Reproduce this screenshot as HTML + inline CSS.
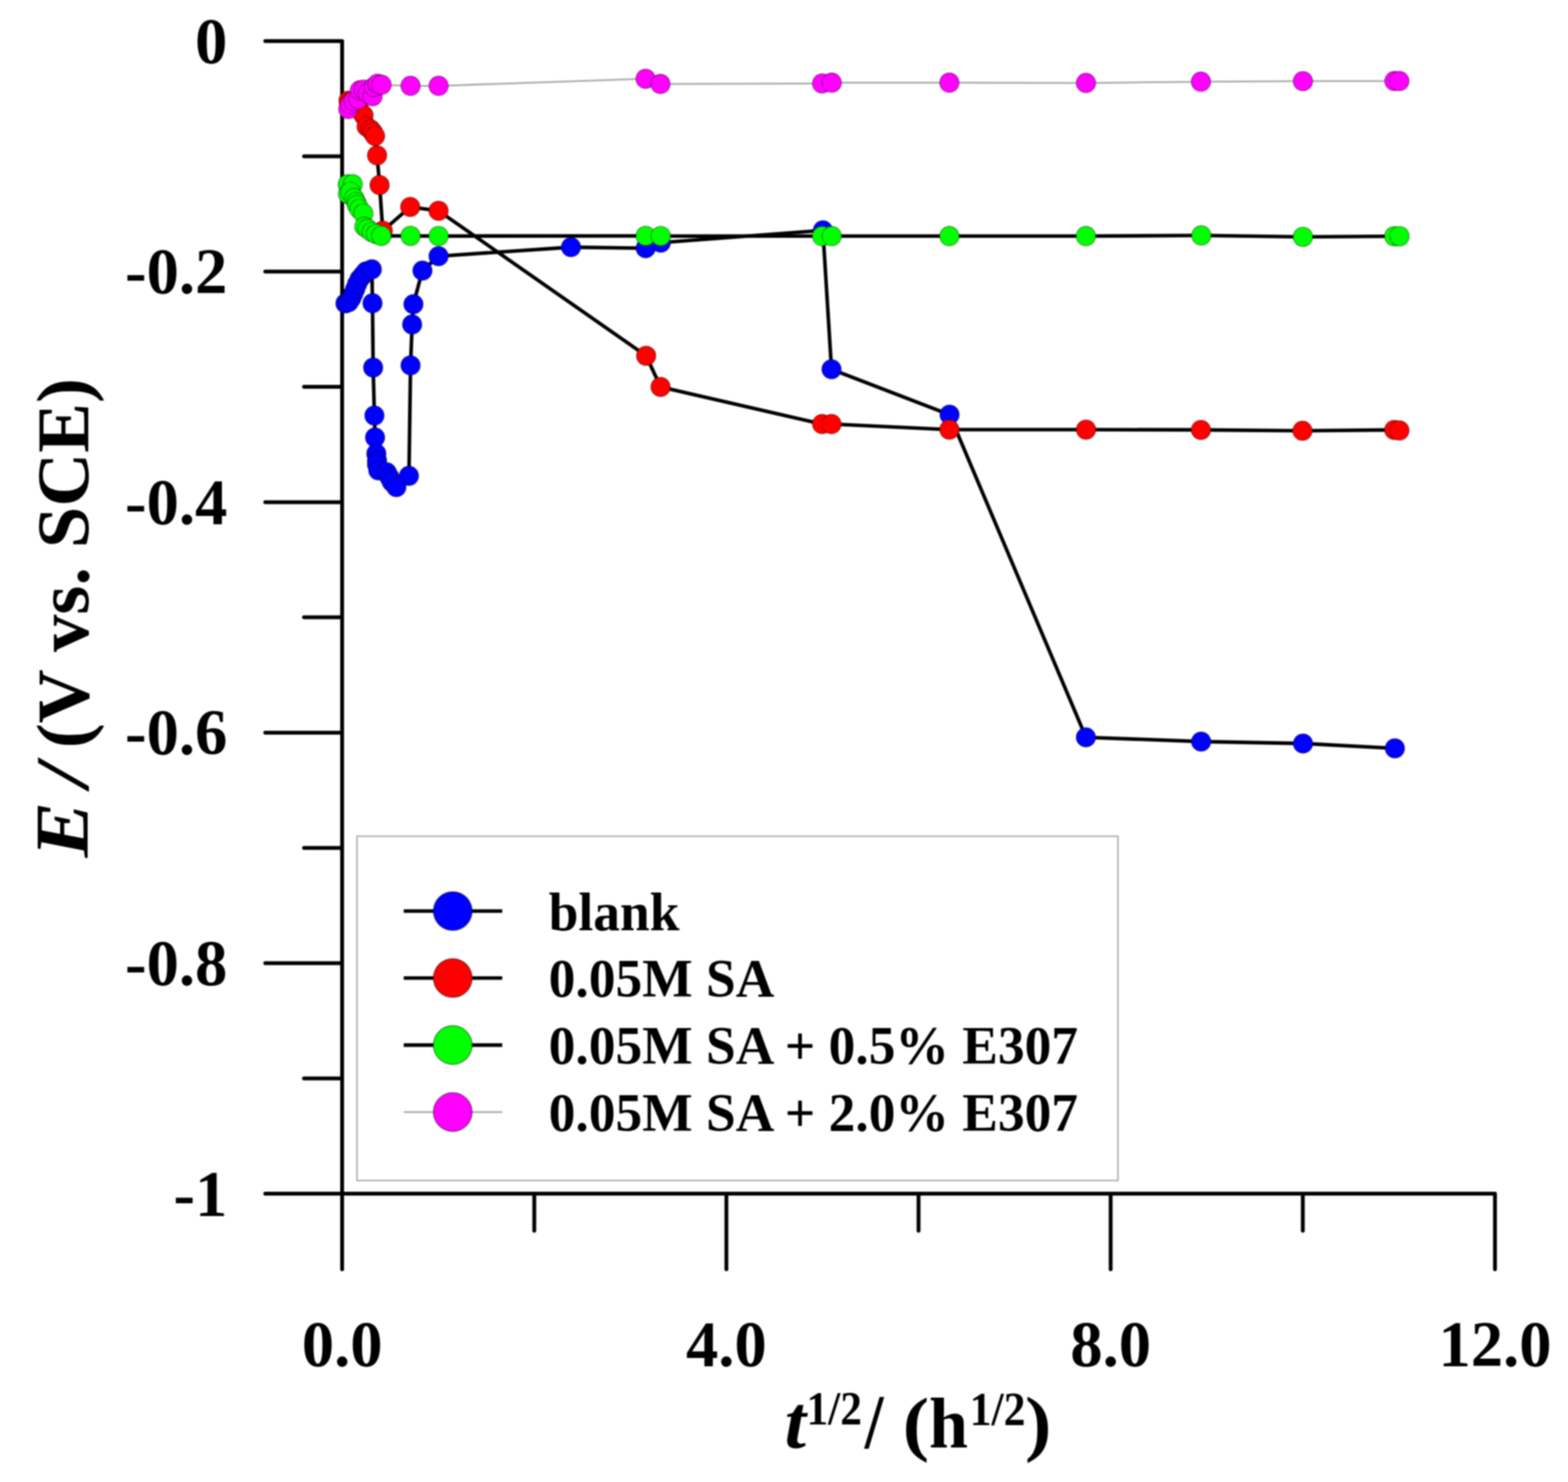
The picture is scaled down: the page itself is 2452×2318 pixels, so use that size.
<!DOCTYPE html>
<html><head><meta charset="utf-8"><title>E vs t^1/2</title>
<style>
html,body{margin:0;padding:0;background:#fff;}
body{width:2452px;height:2318px;overflow:hidden;}
svg{display:block;filter:blur(0.9px);}
text{font-family:"Liberation Serif","Times New Roman",serif;font-weight:bold;fill:#000;}
.tk{font-size:101px;}
.lg{font-size:83.6px;}
.ttl{font-size:114px;}
.sup{font-size:76px;}
</style></head><body>
<svg width="2452" height="2318" viewBox="0 0 2452 2318">
<rect width="2452" height="2318" fill="#fff"/>
<path d="M414.8,64.2 H535.0 V1985.3 M414.8,1867.1 H2337.8 V1985.3 M414.8,424.8 H535.0 M414.8,785.4 H535.0 M414.8,1145.9 H535.0 M414.8,1506.5 H535.0 M475.4,244.5 H535.0 M475.4,605.1 H535.0 M475.4,965.6 H535.0 M475.4,1326.2 H535.0 M475.4,1686.8 H535.0 M1135.9,1867.1 V1985.3 M1736.8,1867.1 V1985.3 M835.5,1867.1 V1925 M1436.4,1867.1 V1925 M2037.3,1867.1 V1925" fill="none" stroke="#000" stroke-width="6.0" stroke-linecap="round" stroke-linejoin="round"/>
<rect x="558.2" y="1308" width="1190" height="538.5" fill="none" stroke="#a9a9a9" stroke-width="2.2"/>
<polyline points="540.2,474.5 545.2,472.7 549.2,466.7 552.3,459.6 555.3,452.6 558.3,444.5 562.3,436.5 567.4,430.4 572.4,424.4 581.5,421.3 582.5,474.3 583.5,574.9 585.5,650.0 586.5,684.3 588.5,709.5 589.6,720.6 589.6,726.6 591.6,735.7 604.7,738.7 608.7,745.8 612.7,753.8 619.8,761.9 639.5,744.3 642.0,571.4 644.5,507.5 646.5,475.8 660.6,423.3 685.8,400.7 892.9,386.6 1009.7,388.2 1033.3,379.5 1286.8,360.3 1300.3,577.6 1484.9,648.6 1698.1,1153.2 1878.3,1159.9 2037.6,1162.9 2181.3,1170.5" fill="none" stroke="#000" stroke-width="5.6" stroke-linejoin="round"/>
<g fill="#0000ff" stroke="rgba(0,0,0,0.5)" stroke-width="1.1"><circle cx="540.2" cy="474.5" r="15.2"/><circle cx="545.2" cy="472.7" r="15.2"/><circle cx="549.2" cy="466.7" r="15.2"/><circle cx="552.3" cy="459.6" r="15.2"/><circle cx="555.3" cy="452.6" r="15.2"/><circle cx="558.3" cy="444.5" r="15.2"/><circle cx="562.3" cy="436.5" r="15.2"/><circle cx="567.4" cy="430.4" r="15.2"/><circle cx="572.4" cy="424.4" r="15.2"/><circle cx="581.5" cy="421.3" r="15.2"/><circle cx="582.5" cy="474.3" r="15.2"/><circle cx="583.5" cy="574.9" r="15.2"/><circle cx="585.5" cy="650.0" r="15.2"/><circle cx="586.5" cy="684.3" r="15.2"/><circle cx="588.5" cy="709.5" r="15.2"/><circle cx="589.6" cy="720.6" r="15.2"/><circle cx="589.6" cy="726.6" r="15.2"/><circle cx="591.6" cy="735.7" r="15.2"/><circle cx="604.7" cy="738.7" r="15.2"/><circle cx="608.7" cy="745.8" r="15.2"/><circle cx="612.7" cy="753.8" r="15.2"/><circle cx="619.8" cy="761.9" r="15.2"/><circle cx="639.5" cy="744.3" r="15.2"/><circle cx="642.0" cy="571.4" r="15.2"/><circle cx="644.5" cy="507.5" r="15.2"/><circle cx="646.5" cy="475.8" r="15.2"/><circle cx="660.6" cy="423.3" r="15.2"/><circle cx="685.8" cy="400.7" r="15.2"/><circle cx="892.9" cy="386.6" r="15.2"/><circle cx="1009.7" cy="388.2" r="15.2"/><circle cx="1033.3" cy="379.5" r="15.2"/><circle cx="1286.8" cy="360.3" r="15.2"/><circle cx="1300.3" cy="577.6" r="15.2"/><circle cx="1484.9" cy="648.6" r="15.2"/><circle cx="1698.1" cy="1153.2" r="15.2"/><circle cx="1878.3" cy="1159.9" r="15.2"/><circle cx="2037.6" cy="1162.9" r="15.2"/><circle cx="2181.3" cy="1170.5" r="15.2"/></g>

<polyline points="545.0,157.5 549.0,160.0 554.0,164.0 561.0,171.0 568.5,180.3 573.3,197.9 579.6,202.6 583.0,207.0 586.5,212.7 589.7,243.1 593.6,289.4 598.6,361.0 641.5,323.7 685.8,329.7 1010.4,556.5 1033.0,605.2 1285.6,663.3 1300.3,663.3 1484.6,672.0 1698.3,672.0 1878.0,672.4 2036.8,673.8 2180.3,672.4 2188.4,673.3" fill="none" stroke="#000" stroke-width="5.6" stroke-linejoin="round"/>
<g fill="#ff0000" stroke="rgba(0,0,0,0.5)" stroke-width="1.1"><circle cx="545.0" cy="157.5" r="15.2"/><circle cx="549.0" cy="160.0" r="15.2"/><circle cx="554.0" cy="164.0" r="15.2"/><circle cx="561.0" cy="171.0" r="15.2"/><circle cx="568.5" cy="180.3" r="15.2"/><circle cx="573.3" cy="197.9" r="15.2"/><circle cx="579.6" cy="202.6" r="15.2"/><circle cx="583.0" cy="207.0" r="15.2"/><circle cx="586.5" cy="212.7" r="15.2"/><circle cx="589.7" cy="243.1" r="15.2"/><circle cx="593.6" cy="289.4" r="15.2"/><circle cx="598.6" cy="361.0" r="15.2"/><circle cx="641.5" cy="323.7" r="15.2"/><circle cx="685.8" cy="329.7" r="15.2"/><circle cx="1010.4" cy="556.5" r="15.2"/><circle cx="1033.0" cy="605.2" r="15.2"/><circle cx="1285.6" cy="663.3" r="15.2"/><circle cx="1300.3" cy="663.3" r="15.2"/><circle cx="1484.6" cy="672.0" r="15.2"/><circle cx="1698.3" cy="672.0" r="15.2"/><circle cx="1878.0" cy="672.4" r="15.2"/><circle cx="2036.8" cy="673.8" r="15.2"/><circle cx="2180.3" cy="672.4" r="15.2"/><circle cx="2188.4" cy="673.3" r="15.2"/></g>

<polyline points="543.8,288.3 551.6,288.3 544.2,303.4 548.0,300.0 553.8,309.8 557.0,316.2 558.3,320.7 562.0,327.0 568.2,334.0 569.8,354.6 574.9,357.8 581.3,362.9 588.0,366.0 596.4,369.0 642.0,369.0 685.8,369.2 1009.7,369.0 1033.3,369.2 1285.6,369.3 1300.7,369.3 1484.6,369.3 1698.1,369.3 1878.6,368.3 2037.5,370.5 2180.4,369.5 2188.5,369.5" fill="none" stroke="#000" stroke-width="5.6" stroke-linejoin="round"/>
<g fill="#00ff00" stroke="rgba(0,0,0,0.5)" stroke-width="1.1"><circle cx="543.8" cy="288.3" r="15.2"/><circle cx="551.6" cy="288.3" r="15.2"/><circle cx="544.2" cy="303.4" r="15.2"/><circle cx="548.0" cy="300.0" r="15.2"/><circle cx="553.8" cy="309.8" r="15.2"/><circle cx="557.0" cy="316.2" r="15.2"/><circle cx="558.3" cy="320.7" r="15.2"/><circle cx="562.0" cy="327.0" r="15.2"/><circle cx="568.2" cy="334.0" r="15.2"/><circle cx="569.8" cy="354.6" r="15.2"/><circle cx="574.9" cy="357.8" r="15.2"/><circle cx="581.3" cy="362.9" r="15.2"/><circle cx="588.0" cy="366.0" r="15.2"/><circle cx="596.4" cy="369.0" r="15.2"/><circle cx="642.0" cy="369.0" r="15.2"/><circle cx="685.8" cy="369.2" r="15.2"/><circle cx="1009.7" cy="369.0" r="15.2"/><circle cx="1033.3" cy="369.2" r="15.2"/><circle cx="1285.6" cy="369.3" r="15.2"/><circle cx="1300.7" cy="369.3" r="15.2"/><circle cx="1484.6" cy="369.3" r="15.2"/><circle cx="1698.1" cy="369.3" r="15.2"/><circle cx="1878.6" cy="368.3" r="15.2"/><circle cx="2037.5" cy="370.5" r="15.2"/><circle cx="2180.4" cy="369.5" r="15.2"/><circle cx="2188.5" cy="369.5" r="15.2"/></g>

<polyline points="544.6,170.6 547.7,163.4 553.0,158.0 560.3,155.0 562.8,141.3 568.9,140.2 575.0,146.0 582.6,150.5 585.0,136.0 590.5,131.0 596.7,132.6 642.0,134.3 685.9,134.3 1009.6,123.2 1032.8,131.3 1285.6,130.6 1300.7,129.3 1484.6,129.3 1698.2,129.8 1878.0,127.8 2037.5,126.9 2180.6,126.8 2188.3,126.8" fill="none" stroke="#aaaaaa" stroke-width="2.8" stroke-linejoin="round"/>
<g fill="#ff00ff" stroke="rgba(0,0,0,0.5)" stroke-width="1.1"><circle cx="544.6" cy="170.6" r="15.2"/><circle cx="547.7" cy="163.4" r="15.2"/><circle cx="553.0" cy="158.0" r="15.2"/><circle cx="560.3" cy="155.0" r="15.2"/><circle cx="562.8" cy="141.3" r="15.2"/><circle cx="568.9" cy="140.2" r="15.2"/><circle cx="575.0" cy="146.0" r="15.2"/><circle cx="582.6" cy="150.5" r="15.2"/><circle cx="585.0" cy="136.0" r="15.2"/><circle cx="590.5" cy="131.0" r="15.2"/><circle cx="596.7" cy="132.6" r="15.2"/><circle cx="642.0" cy="134.3" r="15.2"/><circle cx="685.9" cy="134.3" r="15.2"/><circle cx="1009.6" cy="123.2" r="15.2"/><circle cx="1032.8" cy="131.3" r="15.2"/><circle cx="1285.6" cy="130.6" r="15.2"/><circle cx="1300.7" cy="129.3" r="15.2"/><circle cx="1484.6" cy="129.3" r="15.2"/><circle cx="1698.2" cy="129.8" r="15.2"/><circle cx="1878.0" cy="127.8" r="15.2"/><circle cx="2037.5" cy="126.9" r="15.2"/><circle cx="2180.6" cy="126.8" r="15.2"/><circle cx="2188.3" cy="126.8" r="15.2"/></g>

<line x1="631.3" y1="1425.0" x2="785.4" y2="1425.0" stroke="#000" stroke-width="5.6"/>
<circle cx="708" cy="1425.0" r="30.3" fill="#0000ff" stroke="rgba(0,0,0,0.5)" stroke-width="1.5"/>
<text x="858" y="1454.5" class="lg">blank</text>
<line x1="631.3" y1="1529.8" x2="785.4" y2="1529.8" stroke="#000" stroke-width="5.6"/>
<circle cx="708" cy="1529.8" r="30.3" fill="#ff0000" stroke="rgba(0,0,0,0.5)" stroke-width="1.5"/>
<text x="858" y="1559.3" class="lg">0.05M SA</text>
<line x1="631.3" y1="1634.6" x2="785.4" y2="1634.6" stroke="#000" stroke-width="5.6"/>
<circle cx="708" cy="1634.6" r="30.3" fill="#00ff00" stroke="rgba(0,0,0,0.5)" stroke-width="1.5"/>
<text x="858" y="1664.1" class="lg">0.05M SA + 0.5% E307</text>
<line x1="631.3" y1="1739.4" x2="785.4" y2="1739.4" stroke="#aaaaaa" stroke-width="2.8"/>
<circle cx="708" cy="1739.4" r="30.3" fill="#ff00ff" stroke="rgba(0,0,0,0.5)" stroke-width="1.5"/>
<text x="858" y="1768.9" class="lg">0.05M SA + 2.0% E307</text>
<text x="355.5" y="98.7" class="tk" text-anchor="end">0</text>
<text x="355.5" y="459.3" class="tk" text-anchor="end">-0.2</text>
<text x="355.5" y="819.9" class="tk" text-anchor="end">-0.4</text>
<text x="355.5" y="1180.4" class="tk" text-anchor="end">-0.6</text>
<text x="355.5" y="1541.0" class="tk" text-anchor="end">-0.8</text>
<text x="355.5" y="1901.6" class="tk" text-anchor="end">-1</text>
<text x="535.0" y="2137" class="tk" text-anchor="middle">0.0</text>
<text x="1135.9" y="2137" class="tk" text-anchor="middle">4.0</text>
<text x="1736.8" y="2137" class="tk" text-anchor="middle">8.0</text>
<text x="2337.8" y="2137" class="tk" text-anchor="middle">12.0</text>
<text transform="translate(137.40,1341.19) rotate(-90) scale(1.1149,1.0171)" font-size="117" font-style="italic">E</text>
<text transform="translate(137.58,1230.87) rotate(-90) scale(1.1188,1.0192)" font-size="117" font-style="italic">/</text>
<text transform="translate(137.60,1170.19) rotate(-90) scale(0.9986,0.9986)" font-size="117">(V vs. SCE)</text>
<text transform="translate(1227.05,2265.04) scale(1.0633,1.0578)" font-size="113" font-style="italic">t</text>
<text transform="translate(1261.17,2228.30) scale(0.9046,0.9796)" font-size="75">1/2</text>
<text transform="translate(1352.14,2265.03) scale(0.9364,1.0707)" font-size="113">/</text>
<text transform="translate(1411.58,2263.56) scale(1.1034,0.9892)" font-size="113">(</text>
<text transform="translate(1452.79,2264.30) scale(0.9707,0.9897)" font-size="113">h</text>
<text transform="translate(1516.44,2228.90) scale(0.9103,0.9735)" font-size="75">1/2</text>
<text transform="translate(1602.69,2264.09) scale(1.1034,1.0090)" font-size="113">)</text>
</svg>
</body></html>
